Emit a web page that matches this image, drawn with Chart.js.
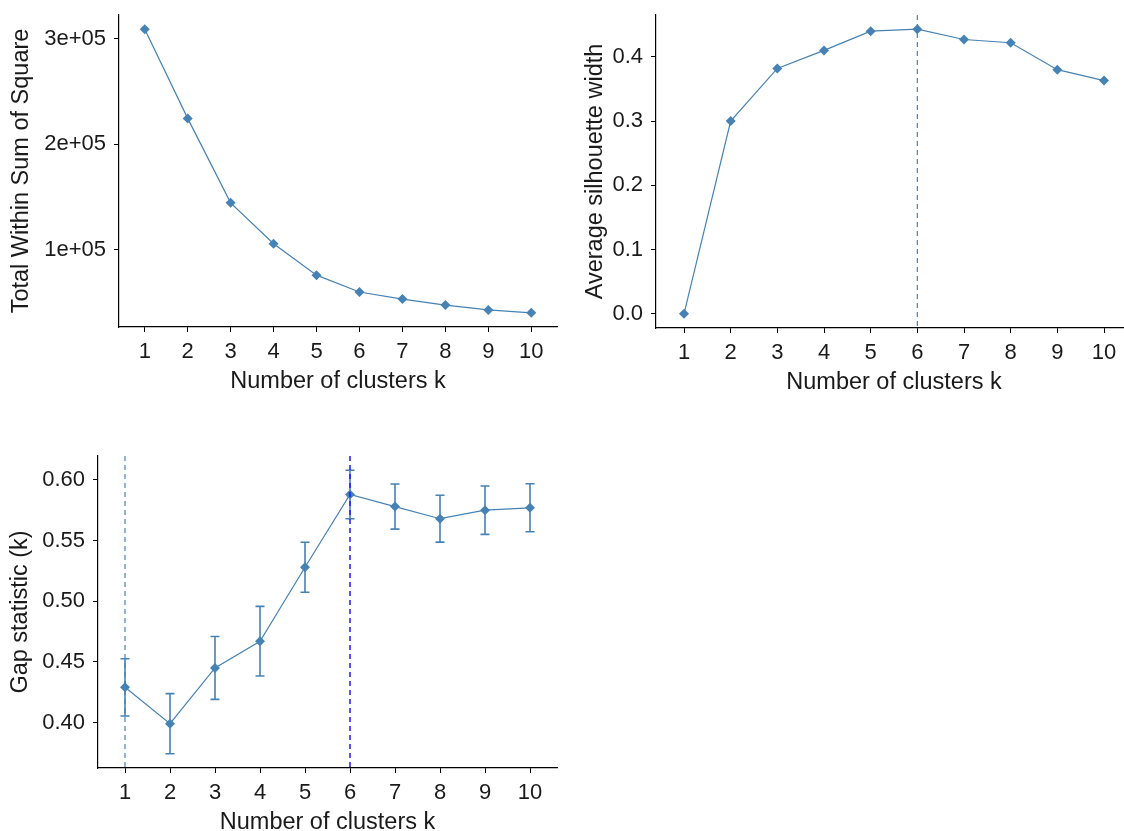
<!DOCTYPE html>
<html lang="en">
<head>
<meta charset="UTF-8">
<title>Optimal number of clusters</title>
<script src="https://cdn.jsdelivr.net/npm/chart.js"></script>
<style>
    html, body {
        margin: 0;
        padding: 0;
        background: #fff;
        width: 1124px;
        height: 831px;
        overflow: hidden;
    }

    .panel {
        position: absolute;
    }

    #elbowBox { left: 0; top: 0; width: 562px; height: 400px; }
    #silBox   { left: 562px; top: 0; width: 580px; height: 401px; }
    #gapBox   { left: 0; top: 420px; width: 562px; height: 421px; }
</style>
</head>
<body>
    <div class="panel" id="elbowBox"><canvas id="elbowChart"></canvas></div>
    <div class="panel" id="silBox"><canvas id="silChart"></canvas></div>
    <div class="panel" id="gapBox"><canvas id="gapChart"></canvas></div>

<script>
    // number of clusters tried
    const ks = [1, 2, 3, 4, 5, 6, 7, 8, 9, 10];

    // elbow method: total within-cluster sum of squares
    const wss = [309000, 224500, 144500, 105800, 76000, 60000, 53300, 47600, 43000, 40300];
    const wssTicks = [100000, 200000, 300000];
    const wssTickLabels = ['1e+05', '2e+05', '3e+05'];

    // silhouette method
    const silhouette = [0, 0.300, 0.382, 0.410, 0.440, 0.443, 0.427, 0.422, 0.380, 0.363];
    const silTicks = [0, 0.1, 0.2, 0.3, 0.4];
    const silTickLabels = ['0.0', '0.1', '0.2', '0.3', '0.4'];
    const silBestK = 6;

    // gap statistic and its standard error
    const gap = [0.429, 0.399, 0.445, 0.467, 0.528, 0.588, 0.578, 0.568, 0.575, 0.577];
    const gapSE = [0.0236, 0.0248, 0.0259, 0.0287, 0.0206, 0.0200, 0.0186, 0.0193, 0.0199, 0.0198];
    const gapTicks = [0.40, 0.45, 0.50, 0.55, 0.60];
    const gapTickLabels = ['0.40', '0.45', '0.50', '0.55', '0.60'];
    const gapFirstK = 1;
    const gapBestK = 6;

    const steelblue = '#4682B4';
    const fontFamily = '"Liberation Sans", Arial, sans-serif';
    const tickFont = { family: fontFamily, size: 22 };
    const titleFont = { family: fontFamily, size: 23.5 };

    // ggplot style: 5% padding on both ends of the data range
    function padRange(lo, hi) {
        const d = (hi - lo) * 0.05;
        return [lo - d, hi + d];
    }

    // dashed vertical reference lines
    const vlinePlugin = {
        id: 'vlines',
        afterDatasetsDraw(chart, args, opts) {
            if (!opts.lines) return;
            const { ctx, chartArea, scales } = chart;
            ctx.save();
            opts.lines.forEach(l => {
                const px = scales.x.getPixelForValue(l.value);
                ctx.strokeStyle = l.color;
                ctx.lineWidth = l.width;
                ctx.setLineDash([5, 4]);
                ctx.beginPath();
                ctx.moveTo(px, chartArea.top);
                ctx.lineTo(px, chartArea.bottom);
                ctx.stroke();
            });
            ctx.restore();
        }
    };

    // error bars (value +/- se) with small caps
    const errorBarPlugin = {
        id: 'errorbars',
        beforeDatasetsDraw(chart, args, opts) {
            if (!opts.se) return;
            const { ctx, scales: { x, y } } = chart;
            const values = chart.data.datasets[0].data;
            ctx.save();
            ctx.strokeStyle = steelblue;
            ctx.lineWidth = 1.6;
            values.forEach((p, i) => {
                const px = x.getPixelForValue(p.x);
                const left = x.getPixelForValue(p.x - 0.1);
                const right = x.getPixelForValue(p.x + 0.1);
                const top = y.getPixelForValue(p.y + opts.se[i]);
                const bottom = y.getPixelForValue(p.y - opts.se[i]);
                ctx.beginPath();
                ctx.moveTo(px, top); ctx.lineTo(px, bottom);
                ctx.moveTo(left, top); ctx.lineTo(right, top);
                ctx.moveTo(left, bottom); ctx.lineTo(right, bottom);
                ctx.stroke();
            });
            ctx.restore();
        }
    };

    // tick labels may hang past the plot edge, the layout padding handles the room
    function noLabelPadding(s) {
        s.paddingTop = 0;
        s.paddingBottom = 0;
        s.paddingLeft = 0;
        s.paddingRight = 0;
    }

    function clusterChart(canvasId, cfg) {
        const points = ks.map((k, i) => ({ x: k, y: cfg.values[i] }));

        return new Chart(document.getElementById(canvasId), {
            type: 'line',
            data: {
                datasets: [{
                    data: points,
                    borderColor: steelblue,
                    borderWidth: 1.2,
                    backgroundColor: steelblue,
                    pointStyle: 'rectRot',
                    pointRadius: 5,
                    pointBorderWidth: 0,
                    pointBackgroundColor: steelblue,
                    tension: 0
                }]
            },
            plugins: [vlinePlugin, errorBarPlugin],
            options: {
                responsive: true,
                maintainAspectRatio: false,
                animation: false,
                layout: { padding: { top: cfg.top, right: cfg.right, left: 0, bottom: 0 } },
                plugins: {
                    legend: { display: false },
                    tooltip: { enabled: false },
                    vlines: { lines: cfg.lines || null },
                    errorbars: { se: cfg.se || null }
                },
                scales: {
                    x: {
                        type: 'linear',
                        min: 0.4,
                        max: 10.6,
                        afterBuildTicks: s => { s.ticks = ks.map(v => ({ value: v })); },
                        afterFit: s => { s.height = 73; noLabelPadding(s); },
                        grid: { drawOnChartArea: false, color: 'black', tickLength: 5, tickWidth: 1 },
                        border: { color: 'black', width: 1.2 },
                        ticks: { color: '#1a1a1a', font: tickFont, padding: 7, maxRotation: 0, autoSkip: false },
                        title: {
                            display: true,
                            text: 'Number of clusters k',
                            color: '#1a1a1a',
                            font: titleFont,
                            padding: { top: 0, bottom: 4 }
                        }
                    },
                    y: {
                        min: cfg.range[0],
                        max: cfg.range[1],
                        afterBuildTicks: s => { s.ticks = cfg.ticks.map(v => ({ value: v })); },
                        afterFit: s => { s.width = cfg.yWidth; noLabelPadding(s); },
                        grid: { drawOnChartArea: false, color: 'black', tickLength: 5, tickWidth: 1 },
                        border: { color: 'black', width: 1.2 },
                        ticks: {
                            color: '#1a1a1a',
                            font: tickFont,
                            padding: 8,
                            callback: v => cfg.tickLabels[cfg.ticks.indexOf(v)]
                        },
                        title: {
                            display: true,
                            text: cfg.title,
                            color: '#1a1a1a',
                            font: titleFont,
                            padding: { top: cfg.titlePad, bottom: 0 }
                        }
                    }
                }
            }
        });
    }

    // Elbow method
    clusterChart('elbowChart', {
        values: wss,
        range: padRange(Math.min(...wss), Math.max(...wss)),
        ticks: wssTicks,
        tickLabels: wssTickLabels,
        title: 'Total Within Sum of Square',
        yWidth: 119, top: 15, right: 4, titlePad: 7
    });

    // Silhouette method, dashed line at the best k
    clusterChart('silChart', {
        values: silhouette,
        range: padRange(Math.min(...silhouette), Math.max(...silhouette)),
        ticks: silTicks,
        tickLabels: silTickLabels,
        title: 'Average silhouette width',
        yWidth: 94, top: 15, right: 10, titlePad: 19,
        lines: [{ value: silBestK, color: steelblue, width: 1.2 }]
    });

    // Gap statistic
    const gapLo = Math.min(...gap.map((g, i) => g - gapSE[i]));
    const gapHi = Math.max(...gap.map((g, i) => g + gapSE[i]));
    clusterChart('gapChart', {
        values: gap,
        se: gapSE,
        range: padRange(gapLo, gapHi),
        ticks: gapTicks,
        tickLabels: gapTickLabels,
        title: 'Gap statistic (k)',
        yWidth: 98, top: 36, right: 3, titlePad: 6,
        lines: [
            { value: gapFirstK, color: steelblue, width: 1.2 },
            { value: gapBestK, color: '#1a1aff', width: 1.5 }
        ]
    });
</script>
</body>
</html>
